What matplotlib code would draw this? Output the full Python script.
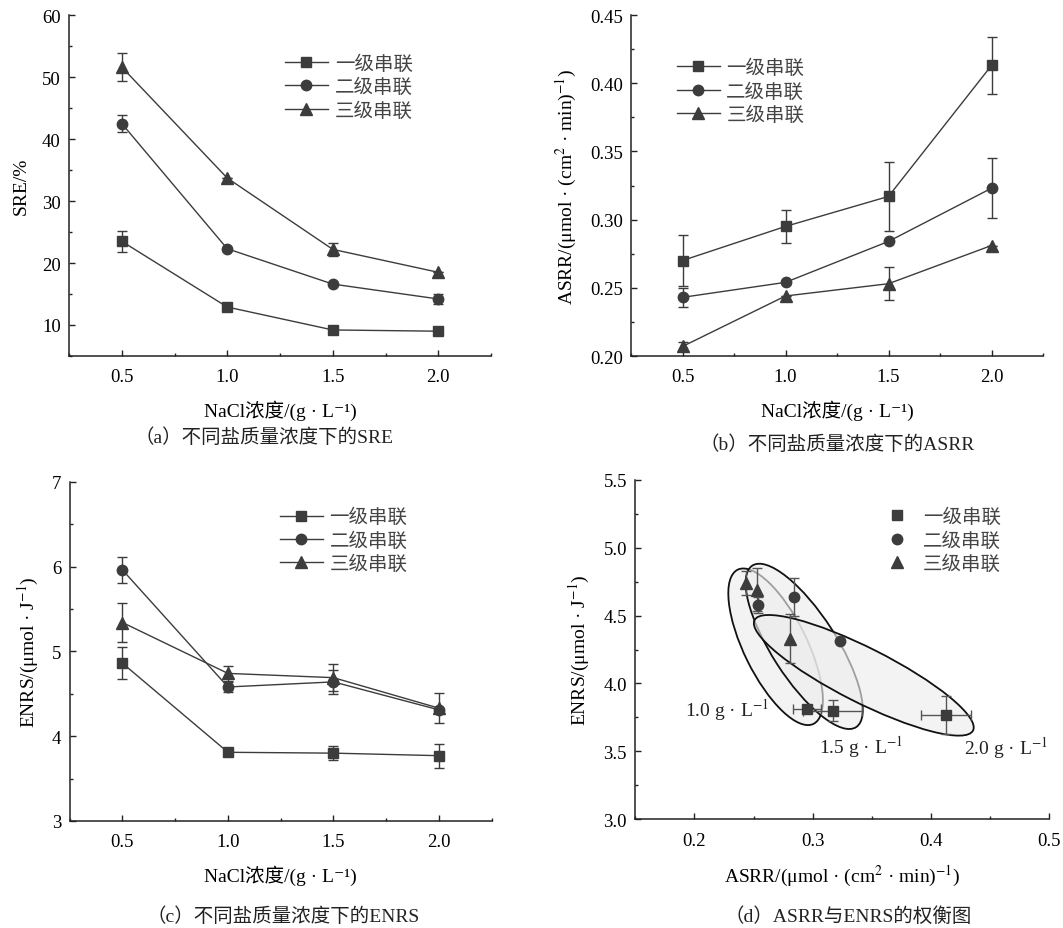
import numpy as np
import matplotlib
matplotlib.use('Agg')
import matplotlib.pyplot as plt
from matplotlib.patches import Ellipse
from matplotlib.transforms import ScaledTranslation
from matplotlib.ticker import MultipleLocator, FormatStrFormatter
from matplotlib.lines import Line2D

plt.rcParams['font.family'] = ['Liberation Serif', 'Noto Sans CJK SC', 'DejaVu Serif']
plt.rcParams['mathtext.fontset'] = 'stix'

# ---------------- data ----------------
nacl = [0.5, 1.0, 1.5, 2.0]
series_names = ['一级串联', '二级串联', '三级串联']

sre_1 = [23.5, 12.9, 9.2, 9.0]
sre_2 = [42.5, 22.3, 16.6, 14.2]
sre_3 = [51.6, 33.7, 22.2, 18.5]
sre_err_1 = [1.7, 0, 0, 0]
sre_err_2 = [1.3, 0, 0, 0.8]
sre_err_3 = [2.3, 0, 1.0, 0]

asrr_1 = [0.270, 0.295, 0.317, 0.413]
asrr_2 = [0.243, 0.254, 0.284, 0.323]
asrr_3 = [0.207, 0.244, 0.253, 0.281]
asrr_err_1 = [0.019, 0.012, 0.025, 0.021]
asrr_err_2 = [0.007, 0, 0, 0.022]
asrr_err_3 = [0.003, 0, 0.012, 0]

enrs_1 = [4.86, 3.81, 3.80, 3.77]
enrs_2 = [5.96, 4.58, 4.64, 4.31]
enrs_3 = [5.34, 4.74, 4.69, 4.33]
enrs_err_1 = [0.19, 0, 0.08, 0.14]
enrs_err_2 = [0.15, 0.06, 0.14, 0]
enrs_err_3 = [0.23, 0.09, 0.16, 0.18]

tradeoff_labels = ['1.0 g · L$^{-1}$', '1.5 g · L$^{-1}$', '2.0 g · L$^{-1}$']
nacl_label = 'NaCl浓度/(g · L⁻¹)'
asrr_label = 'ASRR/(μmol · (cm$^{2}$ · min)$^{-1}$)'
enrs_label = 'ENRS/(μmol · J$^{-1}$)'
sre_label = 'SRE/%'

captions = ['（a）不同盐质量浓度下的SRE', '（b）不同盐质量浓度下的ASRR',
            '（c）不同盐质量浓度下的ENRS', '（d）ASRR与ENRS的权衡图']

# ---------------- style ----------------
W, H = 1063, 929
fig = plt.figure(figsize=(W / 100, H / 100), dpi=100)
C = '#3c3c3c'
markers = ['s', 'o', '^']
msizes = [7.0, 7.5, 8.2]
TICK = 13.5
LAB = 14


def px_rect(l, r, t, b):
    return [l / W, 1 - b / H, (r - l) / W, (b - t) / H]


def style_axes(ax):
    for s in ['top', 'right']:
        ax.spines[s].set_visible(False)
    for s in ['left', 'bottom']:
        ax.spines[s].set_linewidth(1.1)
        ax.spines[s].set_color('#222222')
    ax.tick_params(which='both', direction='in', labelsize=TICK, color='#222222')
    ax.tick_params(which='major', length=4.5, width=1.0)
    ax.tick_params(which='minor', length=2.5, width=1.0)
    ax.tick_params(axis='x', pad=9)
    ax.tick_params(axis='y', pad=6)
    ax.set_facecolor('none')


def line_panel(ax, ys, errs):
    for k in range(3):
        ax.errorbar(nacl, ys[k], yerr=errs[k], fmt='-', marker=markers[k], color=C,
                    mfc=C, mec=C, ms=msizes[k], lw=1.0, elinewidth=1.0, capsize=3.5,
                    capthick=1.0, zorder=3)
    ax.set_xlim(0.25, 2.25)
    ax.xaxis.set_minor_locator(MultipleLocator(0.25))
    ax.set_xticks(nacl)
    ax.set_xticklabels(['%.1f' % v for v in nacl])


def style_legend(leg):
    for t in leg.get_texts():
        t.set_color('#444444')
        t.set_fontweight('light')


def line_legend(ax, x, y):
    handles = [Line2D([], [], color=C, marker=markers[k], ms=msizes[k], lw=1.0, mfc=C, mec=C)
               for k in range(3)]
    leg = ax.legend(handles, series_names, loc='upper left', bbox_to_anchor=(x, y),
                    frameon=False, fontsize=LAB, handlelength=2.2, handletextpad=0.35,
                    labelspacing=0.25, borderpad=0, borderaxespad=0)
    style_legend(leg)


# (a)
ax_a = fig.add_axes(px_rect(69, 491, 16, 357))
style_axes(ax_a)
line_panel(ax_a, [sre_1, sre_2, sre_3], [sre_err_1, sre_err_2, sre_err_3])
ax_a.set_ylim(5, 60)
ax_a.yaxis.set_minor_locator(MultipleLocator(5))
ax_a.set_yticks([10, 20, 30, 40, 50, 60])
ax_a.set_ylabel(sre_label, fontsize=LAB, labelpad=9)
ax_a.set_xlabel(nacl_label, fontsize=LAB, labelpad=10)
line_legend(ax_a, 0.512, 0.885)

# (b)
ax_b = fig.add_axes(px_rect(631, 1043, 16, 357))
style_axes(ax_b)
line_panel(ax_b, [asrr_1, asrr_2, asrr_3], [asrr_err_1, asrr_err_2, asrr_err_3])
ax_b.set_ylim(0.20, 0.45)
ax_b.yaxis.set_major_locator(MultipleLocator(0.05))
ax_b.yaxis.set_minor_locator(MultipleLocator(0.025))
ax_b.yaxis.set_major_formatter(FormatStrFormatter('%.2f'))
ax_b.set_ylabel(asrr_label, fontsize=LAB, labelpad=8)
ax_b.set_xlabel(nacl_label, fontsize=LAB, labelpad=10)
line_legend(ax_b, 0.111, 0.872)

# (c)
ax_c = fig.add_axes(px_rect(69.7, 491.7, 482.7, 822))
style_axes(ax_c)
line_panel(ax_c, [enrs_1, enrs_2, enrs_3], [enrs_err_1, enrs_err_2, enrs_err_3])
ax_c.set_ylim(3, 7)
ax_c.yaxis.set_major_locator(MultipleLocator(1))
ax_c.yaxis.set_minor_locator(MultipleLocator(0.5))
ax_c.set_ylabel(enrs_label, fontsize=LAB, labelpad=8)
ax_c.set_xlabel(nacl_label, fontsize=LAB, labelpad=10)
line_legend(ax_c, 0.498, 0.923)

# (d)
ax_d = fig.add_axes(px_rect(635.3, 1049, 480.7, 820.3))
style_axes(ax_d)
ax_d.set_xlim(0.15, 0.5)
ax_d.set_ylim(3.0, 5.5)
ax_d.xaxis.set_major_locator(MultipleLocator(0.1))
ax_d.xaxis.set_minor_locator(MultipleLocator(0.05))
ax_d.yaxis.set_major_locator(MultipleLocator(0.5))
ax_d.yaxis.set_minor_locator(MultipleLocator(0.25))
ax_d.xaxis.set_major_formatter(FormatStrFormatter('%.1f'))
ax_d.yaxis.set_major_formatter(FormatStrFormatter('%.1f'))
ax_d.set_ylabel(enrs_label, fontsize=LAB, labelpad=8)
ax_d.set_xlabel(asrr_label, fontsize=LAB, labelpad=10)

# trade-off ellipses (annotation shapes): centre in data units, semi-axes in pixels
ellipse_geom = [((0.2687, 4.270), 85.9, 31.5, -63.8),
                ((0.2929, 4.273), 96.0, 32.4, -57.3),
                ((0.3433, 4.060), 122.4, 27.3, -26.8)]
for (cx, cy), a, b, ang in ellipse_geom:
    tr = fig.dpi_scale_trans + ScaledTranslation(cx, cy, ax_d.transData)
    ax_d.add_patch(Ellipse((0, 0), 2 * a / 100, 2 * b / 100, angle=ang, transform=tr,
                           facecolor=(0.93, 0.93, 0.93, 0.65), edgecolor='#111111',
                           lw=1.3, zorder=2))

asrr_all = [asrr_1, asrr_2, asrr_3]
enrs_all = [enrs_1, enrs_2, enrs_3]
asrr_err_all = [asrr_err_1, asrr_err_2, asrr_err_3]
enrs_err_all = [enrs_err_1, enrs_err_2, enrs_err_3]
show_xerr = [True, False, False]
for k in range(3):
    xs = asrr_all[k][1:]
    ys = enrs_all[k][1:]
    xe = asrr_err_all[k][1:] if show_xerr[k] else None
    ye = enrs_err_all[k][1:]
    ax_d.errorbar(xs, ys, xerr=xe, yerr=ye, fmt='none', ecolor='#555555',
                  elinewidth=1.0, capsize=3.5, capthick=1.0, zorder=3)
    ax_d.plot(xs, ys, ls='none', marker=markers[k], color=C, ms=msizes[k], zorder=4)

label_pos = [(0.2273, 3.812), (0.3412, 3.541), (0.4633, 3.529)]
for (lx, ly), t in zip(label_pos, tradeoff_labels):
    ax_d.text(lx, ly, t, fontsize=LAB, ha='center', va='center', color='#222222', zorder=5)

handles_d = [Line2D([], [], color=C, marker=markers[k], ms=msizes[k], ls='none')
             for k in range(3)]
leg = ax_d.legend(handles_d, series_names, loc='upper left', bbox_to_anchor=(0.608, 0.918),
                  frameon=False, fontsize=LAB, handlelength=1.0, handletextpad=0.85,
                  labelspacing=0.25, borderpad=0, borderaxespad=0)
style_legend(leg)

# captions
cap_pos = [(264, 438), (837, 445), (283.5, 916.7), (848.5, 916.7)]
for (cx, cy), t in zip(cap_pos, captions):
    fig.text(cx / W, 1 - cy / H, t, fontsize=LAB, ha='center', va='center', color='#222222')

fig.savefig('out.png', dpi=100)
